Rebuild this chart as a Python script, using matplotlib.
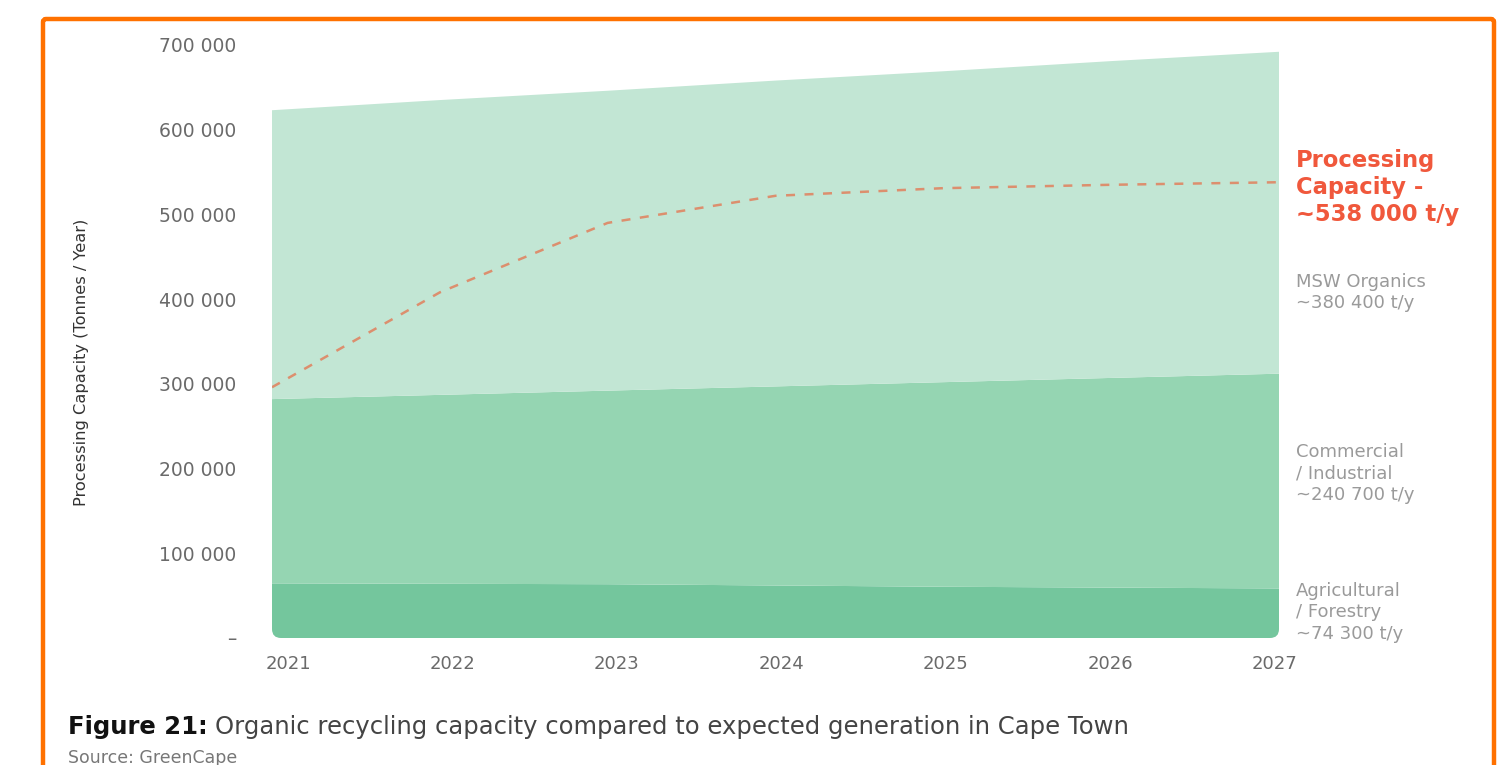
"""Organic recycling capacity vs expected generation, Cape Town."""

import matplotlib

matplotlib.use("Agg")
import matplotlib.pyplot as plt
from matplotlib.patches import FancyBboxPatch
from matplotlib.transforms import IdentityTransform

# Expected generation by stream (tonnes / year), stacked bottom to top
years = [2021, 2022, 2023, 2024, 2025, 2026, 2027]
agricultural = [64500, 64000, 63500, 62000, 60500, 59500, 58500]
commercial = [217500, 223000, 228500, 235000, 241500, 247500, 253500]
msw_organics = [341000, 348000, 354000, 361000, 367000, 374000, 380000]

# Installed processing capacity (tonnes / year)
processing = [296000, 408000, 490000, 522000, 531000, 535000, 538000]

y_ticks = [0, 100000, 200000, 300000, 400000, 500000, 600000, 700000]
y_tick_labels = ["\u2013", "100 000", "200 000", "300 000", "400 000",
                 "500 000", "600 000", "700 000"]

band_labels = [
    ("MSW Organics\n~380 400 t/y", 283),
    ("Commercial\n/ Industrial\n~240 700 t/y", 453),
    ("Agricultural\n/ Forestry\n~74 300 t/y", 592),
]
capacity_label = "Processing\nCapacity -\n~538 000 t/y"
caption_head = "Figure 21:"
caption_body = "Organic recycling capacity compared to expected generation in Cape Town"

colors = ["#74c69d", "#95d5b2", "#c2e6d4"]
W, H = 1506, 765

plt.rcParams["font.family"] = ["DejaVu Sans"]

fig = plt.figure(figsize=(W / 100, H / 100), dpi=100)
fig.patch.set_facecolor("white")


def px(x, y):
    """Pixel position (from top-left) to figure fraction."""
    return x / W, 1 - y / H


ax_left, ax_right, ax_top, ax_bottom = 272, 1279, 45, 638
ax = fig.add_axes([ax_left / W, 1 - ax_bottom / H,
                   (ax_right - ax_left) / W, (ax_bottom - ax_top) / H])

polys = ax.stackplot(years, agricultural, commercial, msw_organics,
                     colors=colors, linewidth=0)

# rounded bottom corners on the stacked block
clip = FancyBboxPatch((ax_left, H - ax_bottom), ax_right - ax_left,
                      ax_bottom - ax_top + 60,
                      boxstyle="round,pad=0,rounding_size=9",
                      transform=IdentityTransform(), facecolor="none",
                      edgecolor="none")
for p in polys:
    p.set_clip_path(clip)

ax.plot(years, processing, color="#dc8f6e", lw=1.8, dashes=(3.6, 3.8),
        dash_capstyle="butt")

ax.set_xlim(2021, 2027)
ax.set_ylim(0, 700000)
# year labels sit slightly inside the block ends
ax.set_xticks([2021.095 + (y - 2021) * 0.98 for y in years])
ax.set_xticklabels([str(y) for y in years])
ax.set_yticks(y_ticks)
ax.set_yticklabels(y_tick_labels)
ax.tick_params(axis="both", length=0, labelcolor="#6a6a6a")
ax.tick_params(axis="y", pad=26, labelsize=13.5)
ax.tick_params(axis="x", pad=12, labelsize=13)
for s in ax.spines.values():
    s.set_visible(False)
ax.set_facecolor("none")

fig.text(*px(82, 362), "Processing Capacity (Tonnes / Year)", rotation=90,
         ha="center", va="center", fontsize=11.7, color="#333333",
         family=["Liberation Sans Narrow", "DejaVu Sans"])

# side annotations
fig.text(*px(1296, 149), capacity_label, ha="left", va="top", fontsize=16.3,
         fontweight="bold", color="#f0583c", linespacing=1.22)
for text, top in band_labels:
    fig.text(*px(1296, top - 10), text, ha="left", va="top", fontsize=13,
             color="#9a9a9a", linespacing=1.24)

# caption
head = fig.text(*px(68, 727), caption_head, ha="left", va="center",
                fontsize=17.5, fontweight="bold", color="#111111")
fig.canvas.draw()
bb = head.get_window_extent(fig.canvas.get_renderer())
fig.text((bb.x1 + 7) / W, 1 - 727 / H, caption_body, ha="left",
         va="center", fontsize=17.5, color="#444444")
fig.text(*px(68, 758), "Source: GreenCape", ha="left", va="center",
         fontsize=12.5, color="#777777")

# orange frame
frame = FancyBboxPatch((43, -40), 1494 - 43, H - 19 + 40,
                       boxstyle="round,pad=0,rounding_size=3",
                       transform=IdentityTransform(), facecolor="none",
                       edgecolor="#ff7100", linewidth=3.2, clip_on=False)
fig.patches.append(frame)

fig.savefig("out.png", dpi=100)
